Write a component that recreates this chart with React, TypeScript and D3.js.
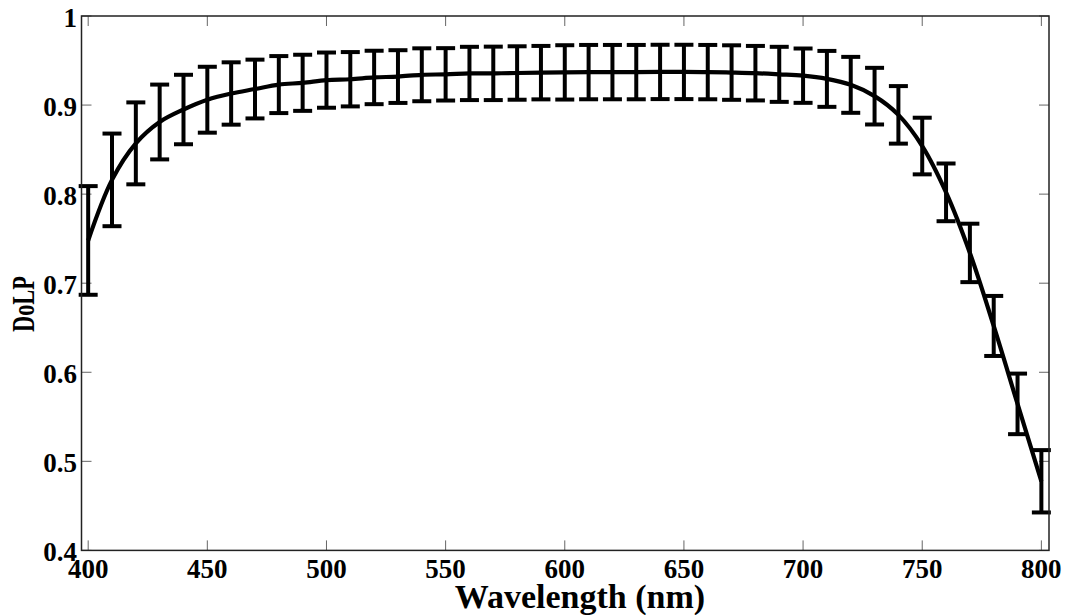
import React from "react";
import * as d3 from "d3";

const wavelengths = [400,410,420,430,440,450,460,470,480,490,500,510,520,530,540,550,560,570,580,590,600,610,620,630,640,650,660,670,680,690,700,710,720,730,740,750,760,770,780,790,800];
const dolpMean = [0.748,0.816,0.857,0.881,0.895,0.906,0.913,0.918,0.923,0.925,0.928,0.929,0.931,0.932,0.934,0.9345,0.9355,0.9356,0.936,0.9364,0.9367,0.937,0.937,0.937,0.9372,0.9372,0.937,0.9365,0.9358,0.9345,0.933,0.9294,0.9227,0.910,0.889,0.854,0.802,0.734,0.652,0.5645,0.4776];
const dolpErr = [0.061,0.052,0.046,0.042,0.039,0.037,0.035,0.033,0.032,0.0315,0.031,0.0305,0.030,0.0296,0.0297,0.0294,0.0299,0.030,0.030,0.030,0.0305,0.0305,0.0305,0.0305,0.0305,0.0305,0.0305,0.0306,0.0306,0.0309,0.0305,0.0314,0.0314,0.0318,0.0323,0.0318,0.0324,0.0328,0.0337,0.034,0.035];
const xTicks = [400,450,500,550,600,650,700,750,800];
const yTicks = [0.4,0.5,0.6,0.7,0.8,0.9,1];
const yTickLabels = ["0.4","0.5","0.6","0.7","0.8","0.9","1"];

const W = 1068, H = 615;
const left = 81.5, right = 1049, top = 16, bottom = 550.4;

export default function App() {
  const x = d3.scaleLinear().domain([397.2, 803.2]).range([left, right]);
  const y = d3.scaleLinear().domain([0.4, 1]).range([bottom, top]);
  const pts = wavelengths.map((w, i) => [w, dolpMean[i]] as [number, number]);
  const line = d3.line<[number, number]>().x(d => x(d[0])).y(d => y(d[1])).curve(d3.curveCatmullRom.alpha(0.5));
  const font = "'Liberation Serif', 'Times New Roman', serif";
  const capHalf = 9.5;
  const tickLen = 10;
  return (
    <svg width={W} height={H} style={{ position: "absolute", left: 0, top: 0, background: "#fff" }}>
      <rect x={0} y={0} width={W} height={H} fill="#fff" />
      {xTicks.map(t => (
        <g key={"xt" + t} stroke="#666" strokeWidth={1}>
          <line x1={x(t)} x2={x(t)} y1={bottom} y2={bottom - tickLen} />
          <line x1={x(t)} x2={x(t)} y1={top} y2={top + tickLen} />
        </g>
      ))}
      {yTicks.map(t => (
        <g key={"yt" + t} stroke="#666" strokeWidth={1}>
          <line x1={left} x2={left + tickLen} y1={y(t)} y2={y(t)} />
          <line x1={right} x2={right - tickLen} y1={y(t)} y2={y(t)} />
        </g>
      ))}
      {wavelengths.map((w, i) => {
        const cx = x(w);
        const y1 = y(dolpMean[i] + dolpErr[i]);
        const y2 = y(dolpMean[i] - dolpErr[i]);
        return (
          <g key={"eb" + w} stroke="#000" strokeWidth={4}>
            <line x1={cx} x2={cx} y1={y1} y2={y2} />
            <line x1={cx - capHalf} x2={cx + capHalf} y1={y1} y2={y1} />
            <line x1={cx - capHalf} x2={cx + capHalf} y1={y2} y2={y2} />
          </g>
        );
      })}
      <path d={line(pts) || ""} fill="none" stroke="#000" strokeWidth={4.2} />
      <rect x={left} y={top} width={right - left} height={bottom - top} fill="none" stroke="#222" strokeWidth={1.5} />
      {xTicks.map(t => (
        <text key={"xl" + t} x={x(t)} y={578} textAnchor="middle" fontFamily={font} fontWeight="bold" fontSize={27} fill="#000">{t}</text>
      ))}
      {yTicks.map((t, i) => (
        <text key={"yl" + t} x={77} y={y(t) + 11} textAnchor="end" fontFamily={font} fontWeight="bold" fontSize={27} fill="#000">{yTickLabels[i]}</text>
      ))}
      <text x={580} y={607.5} textAnchor="middle" fontFamily={font} fontWeight="bold" fontSize={34} fill="#000">Wavelength (nm)</text>
      <text transform={`translate(34,304) rotate(-90) scale(0.7,1)`} textAnchor="middle" fontFamily={font} fontWeight="bold" fontSize={32} fill="#000">DoLP</text>
    </svg>
  );
}
